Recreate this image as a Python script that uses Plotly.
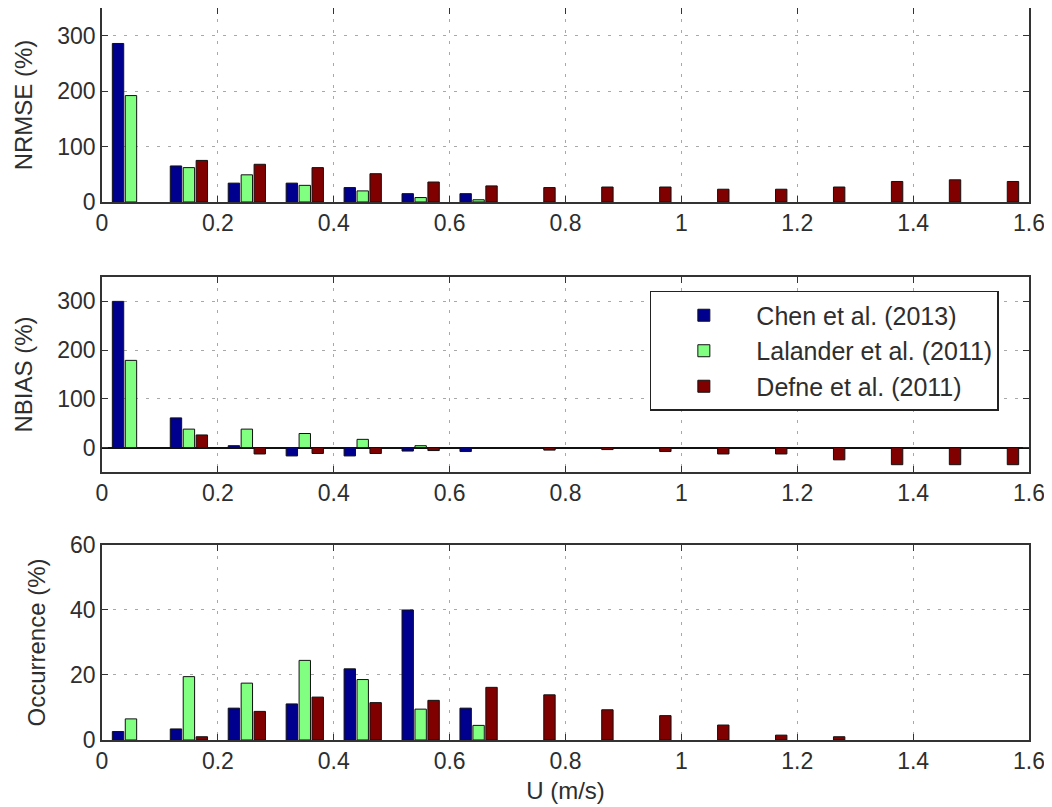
import plotly.graph_objects as go
from plotly.subplots import make_subplots

# Bin centres (m/s)
u_centers = [0.05, 0.15, 0.25, 0.35, 0.45, 0.55, 0.65, 0.75,
             0.85, 0.95, 1.05, 1.15, 1.25, 1.35, 1.45, 1.55]
x_ticks = [0, 0.2, 0.4, 0.6, 0.8, 1, 1.2, 1.4, 1.6]
series_names = ["Chen et al. (2013)", "Lalander et al. (2011)", "Defne et al. (2011)"]

# NRMSE (%)
nrmse_chen = [286, 65, 34, 34, 26, 15, 15, None, None, None, None, None, None, None, None, None]
nrmse_lalander = [192, 62, 49, 30, 20, 8, 4, None, None, None, None, None, None, None, None, None]
nrmse_defne = [None, 75, 68, 62, 51, 36, 29, 26, 27, 27, 23, 23, 27, 37, 40, 37]

# NBIAS (%)
nbias_chen = [300, 61, 4, -17, -17, -7, -8, None, None, None, None, None, None, None, None, None]
nbias_lalander = [179, 38, 38, 29, 17, 4, 0, None, None, None, None, None, None, None, None, None]
nbias_defne = [None, 26, -13, -12, -12, -6, 0, -5, -4, -8, -13, -13, -25, -35, -35, -35]

# Occurrence (%)
occ_chen = [2.6, 3.4, 9.8, 11.1, 21.9, 40, 9.8, None, None, None, None, None, None, None, None, None]
occ_lalander = [6.5, 19.5, 17.5, 24.5, 18.6, 9.5, 4.5, None, None, None, None, None, None, None, None, None]
occ_defne = [None, 1.0, 8.8, 13.2, 11.5, 12.2, 16.2, 13.9, 9.3, 7.5, 4.6, 1.5, 1.0, None, None, None]

colors = ["#00008F", "#80FF80", "#800000"]

panels = [
    ("NRMSE (%)", [nrmse_chen, nrmse_lalander, nrmse_defne], [0, 350], [0, 100, 200, 300]),
    ("NBIAS (%)", [nbias_chen, nbias_lalander, nbias_defne], [-50, 350], [0, 100, 200, 300]),
    ("Occurrence (%)", [occ_chen, occ_lalander, occ_defne], [0, 60], [0, 20, 40, 60]),
]

fig = make_subplots(rows=3, cols=1, shared_xaxes=False)

for r, (label, data, yr, yt) in enumerate(panels, start=1):
    for i, vals in enumerate(data):
        fig.add_trace(
            go.Bar(
                x=u_centers, y=vals, name=series_names[i],
                marker=dict(color=colors[i], line=dict(color="#111111", width=1)),
                showlegend=(r == 2), legendgroup=series_names[i],
            ),
            row=r, col=1,
        )

font_family = "Liberation Sans, Arial, Helvetica, sans-serif"
text_color = "#2e2e2e"
axis_common = dict(
    showline=True, linecolor="#333333", linewidth=1.5, mirror="ticks",
    ticks="inside", ticklen=6, tickcolor="#333333", tickwidth=1,
    showgrid=True, gridcolor="#a8a8a8", griddash="3px,8px", gridwidth=1,
    tickfont=dict(family=font_family, size=23, color=text_color),
    automargin=False,
)

# domains in paper fraction (plot area height 732 px)
domains = [[0.735, 1.0], [0.3661, 0.6325], [0.0, 0.2664]]
for r, (label, data, yr, yt) in enumerate(panels, start=1):
    fig.update_xaxes(
        range=[0, 1.6], tickvals=x_ticks, ticktext=[f"{v:g}" for v in x_ticks],
        zeroline=False, row=r, col=1, **axis_common,
    )
    fig.update_yaxes(
        range=yr, tickvals=yt, domain=domains[r - 1],
        zeroline=(r == 2), zerolinecolor="#111111", zerolinewidth=1.5,
        title=dict(text=label, font=dict(family=font_family, size=24, color=text_color), standoff=18),
        row=r, col=1, **axis_common,
    )

fig.update_xaxes(
    title=dict(text="U (m/s)", font=dict(family=font_family, size=24, color=text_color), standoff=9),
    row=3, col=1,
)

# page body has an 8px margin, so the figure is 8px smaller than the window
fig.update_layout(
    width=1044, height=799,
    margin=dict(l=94, r=23, t=0, b=67),
    paper_bgcolor="white", plot_bgcolor="white",
    barmode="group", bargap=0.33, bargroupgap=0.12,
    font=dict(family=font_family, size=23, color=text_color),
    legend=dict(
        x=0.591, y=0.6134, xanchor="left", yanchor="top",
        bgcolor="white", bordercolor="#222222", borderwidth=1.5,
        font=dict(family=font_family, size=25, color=text_color),
        itemwidth=95, tracegroupgap=0,
    ),
)

fig.write_html("out.html")
